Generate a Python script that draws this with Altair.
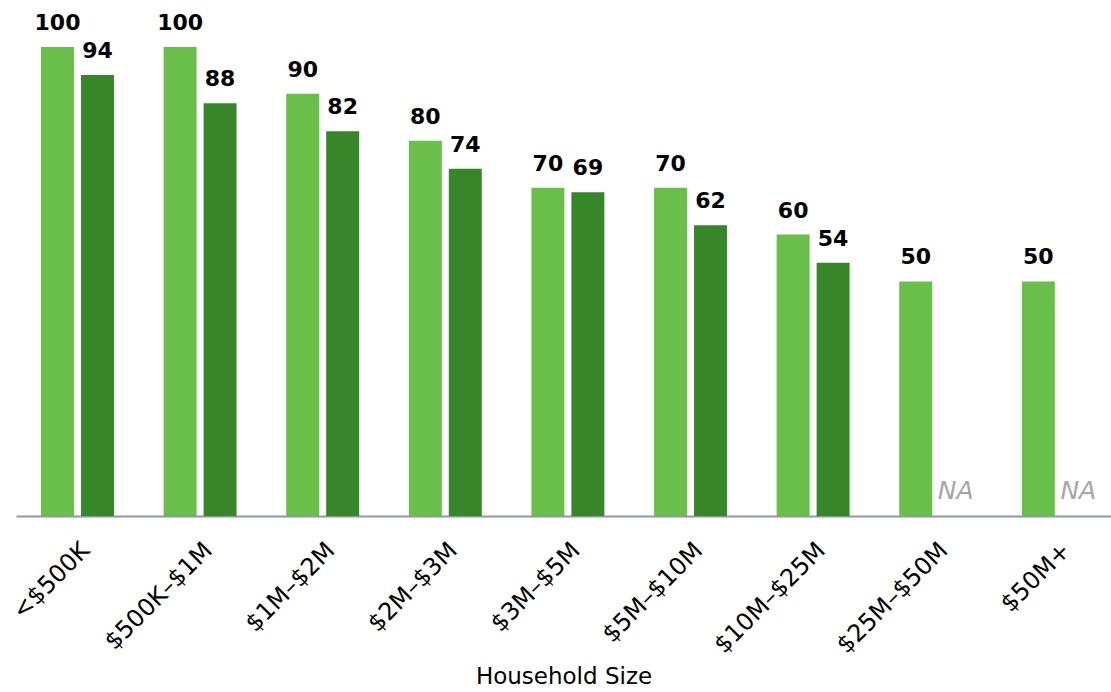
import altair as alt
import pandas as pd

categories = ["<$500K", "$500K–$1M", "$1M–$2M", "$2M–$3M", "$3M–$5M",
              "$5M–$10M", "$10M–$25M", "$25M–$50M", "$50M+"]
series_names = ["Series 1", "Series 2"]
series_1 = [100, 100, 90, 80, 70, 70, 60, 50, 50]
series_2 = [94, 88, 82, 74, 69, 62, 54, None, None]
colors = ["#6abf4b", "#37872a"]

rows = []
na_rows = []
for c, a, b in zip(categories, series_1, series_2):
    rows.append({"category": c, "series": series_names[0], "value": a})
    if b is None:
        na_rows.append({"category": c, "series": series_names[1], "value": 0, "label": "NA"})
    else:
        rows.append({"category": c, "series": series_names[1], "value": b})
df = pd.DataFrame(rows)
na_df = pd.DataFrame(na_rows)

FONT = "DejaVu Sans"

x_enc = alt.X(
    "category:N", sort=categories,
    scale=alt.Scale(paddingInner=0.405, paddingOuter=0.168, align=0.607),
    axis=alt.Axis(
        title="Household Size", labelAngle=-45, labelFontSize=24, labelFont=FONT,
        labelColor="#000000", labelPadding=22, ticks=False,
        domainColor="#8a98a8", domainWidth=2,
        titleFont=FONT, titleFontSize=23, titleFontWeight="normal", titleColor="#000000",
        titlePadding=8,
    ),
)
xo_enc = alt.XOffset("series:N", scale=alt.Scale(domain=series_names, paddingInner=0.175, paddingOuter=0))
y_enc = alt.Y("value:Q", scale=alt.Scale(domain=[0, 110]), axis=None)

bars = alt.Chart(df).mark_bar().encode(
    x=x_enc, xOffset=xo_enc, y=y_enc,
    color=alt.Color("series:N", scale=alt.Scale(domain=series_names, range=colors), legend=None),
)
labels = alt.Chart(df).mark_text(
    dy=-17, baseline="alphabetic", fontSize=22, fontWeight="bold", font=FONT, color="#000000"
).encode(x=x_enc, xOffset=xo_enc, y=y_enc, text=alt.Text("value:Q"))
na = alt.Chart(na_df).mark_text(
    dy=-17, baseline="alphabetic", fontSize=25, fontStyle="italic", font=FONT, color="#a6a6a6"
).encode(x=x_enc, xOffset=xo_enc, y=y_enc, text="label:N")

chart = alt.layer(bars, labels, na).properties(
    width=1095, height=516,
    autosize=alt.AutoSizeParams(type="none"),
    padding={"left": 16, "top": 0, "right": 0, "bottom": 176},
).configure_view(stroke=None)

chart.save("out.html", embed_options={"renderer": "svg", "actions": False})
